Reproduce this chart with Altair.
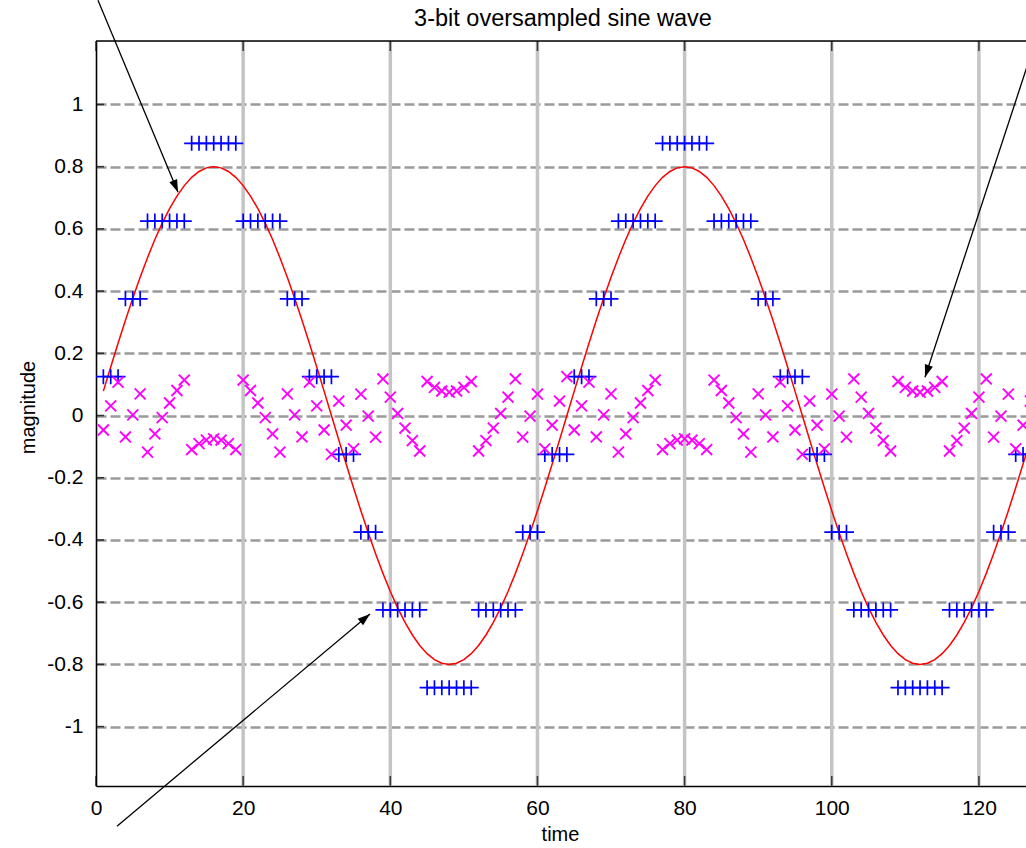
import altair as alt
import pandas as pd

FONT = "Liberation Sans"

# ---------------- data ----------------
time = list(range(1, 129))

sine = [
    0.0784, 0.1561, 0.2322, 0.3061, 0.3771, 0.4445, 0.5075, 0.5657, 0.6184, 0.6652, 0.7055, 0.7391, 0.7656, 0.7846, 0.7961, 0.8,
    0.7961, 0.7846, 0.7656, 0.7391, 0.7055, 0.6652, 0.6184, 0.5657, 0.5075, 0.4445, 0.3771, 0.3061, 0.2322, 0.1561, 0.0784, 0.0,
    -0.0784, -0.1561, -0.2322, -0.3061, -0.3771, -0.4445, -0.5075, -0.5657, -0.6184, -0.6652, -0.7055, -0.7391, -0.7656, -0.7846, -0.7961, -0.8,
    -0.7961, -0.7846, -0.7656, -0.7391, -0.7055, -0.6652, -0.6184, -0.5657, -0.5075, -0.4445, -0.3771, -0.3061, -0.2322, -0.1561, -0.0784, 0.0,
    0.0784, 0.1561, 0.2322, 0.3061, 0.3771, 0.4445, 0.5075, 0.5657, 0.6184, 0.6652, 0.7055, 0.7391, 0.7656, 0.7846, 0.7961, 0.8,
    0.7961, 0.7846, 0.7656, 0.7391, 0.7055, 0.6652, 0.6184, 0.5657, 0.5075, 0.4445, 0.3771, 0.3061, 0.2322, 0.1561, 0.0784, 0.0,
    -0.0784, -0.1561, -0.2322, -0.3061, -0.3771, -0.4445, -0.5075, -0.5657, -0.6184, -0.6652, -0.7055, -0.7391, -0.7656, -0.7846, -0.7961, -0.8,
    -0.7961, -0.7846, -0.7656, -0.7391, -0.7055, -0.6652, -0.6184, -0.5657, -0.5075, -0.4445, -0.3771, -0.3061, -0.2322, -0.1561, -0.0784, 0.0,
]

quantized = [
    0.125, 0.125, 0.125, 0.375, 0.375, 0.375, 0.625, 0.625, 0.625, 0.625, 0.625, 0.625, 0.875, 0.875, 0.875, 0.875,
    0.875, 0.875, 0.875, 0.625, 0.625, 0.625, 0.625, 0.625, 0.625, 0.375, 0.375, 0.375, 0.125, 0.125, 0.125, 0.125,
    -0.125, -0.125, -0.125, -0.375, -0.375, -0.375, -0.625, -0.625, -0.625, -0.625, -0.625, -0.625, -0.875, -0.875, -0.875, -0.875,
    -0.875, -0.875, -0.875, -0.625, -0.625, -0.625, -0.625, -0.625, -0.625, -0.375, -0.375, -0.375, -0.125, -0.125, -0.125, -0.125,
    0.125, 0.125, 0.125, 0.375, 0.375, 0.375, 0.625, 0.625, 0.625, 0.625, 0.625, 0.625, 0.875, 0.875, 0.875, 0.875,
    0.875, 0.875, 0.875, 0.625, 0.625, 0.625, 0.625, 0.625, 0.625, 0.375, 0.375, 0.375, 0.125, 0.125, 0.125, 0.125,
    -0.125, -0.125, -0.125, -0.375, -0.375, -0.375, -0.625, -0.625, -0.625, -0.625, -0.625, -0.625, -0.875, -0.875, -0.875, -0.875,
    -0.875, -0.875, -0.875, -0.625, -0.625, -0.625, -0.625, -0.625, -0.625, -0.375, -0.375, -0.375, -0.125, -0.125, -0.125, -0.125,
]

error = [
    -0.0466, 0.0311, 0.1072, -0.0689, 0.0021, 0.0695, -0.1175, -0.0593, -0.0066, 0.0402, 0.0805, 0.1141, -0.1094, -0.0904, -0.0789, -0.075,
    -0.0789, -0.0904, -0.1094, 0.1141, 0.0805, 0.0402, -0.0066, -0.0593, -0.1175, 0.0695, 0.0021, -0.0689, 0.1072, 0.0311, -0.0466, -0.125,
    0.0466, -0.0311, -0.1072, 0.0689, -0.0021, -0.0695, 0.1175, 0.0593, 0.0066, -0.0402, -0.0805, -0.1141, 0.1094, 0.0904, 0.0789, 0.075,
    0.0789, 0.0904, 0.1094, -0.1141, -0.0805, -0.0402, 0.0066, 0.0593, 0.1175, -0.0695, -0.0021, 0.0689, -0.1072, -0.0311, 0.0466, 0.125,
    -0.0466, 0.0311, 0.1072, -0.0689, 0.0021, 0.0695, -0.1175, -0.0593, -0.0066, 0.0402, 0.0805, 0.1141, -0.1094, -0.0904, -0.0789, -0.075,
    -0.0789, -0.0904, -0.1094, 0.1141, 0.0805, 0.0402, -0.0066, -0.0593, -0.1175, 0.0695, 0.0021, -0.0689, 0.1072, 0.0311, -0.0466, -0.125,
    0.0466, -0.0311, -0.1072, 0.0689, -0.0021, -0.0695, 0.1175, 0.0593, 0.0066, -0.0402, -0.0805, -0.1141, 0.1094, 0.0904, 0.0789, 0.075,
    0.0789, 0.0904, 0.1094, -0.1141, -0.0805, -0.0402, 0.0066, 0.0593, 0.1175, -0.0695, -0.0021, 0.0689, -0.1072, -0.0311, 0.0466, 0.125,
]

x_ticks = [0, 20, 40, 60, 80, 100, 120]
x_grid = [20, 40, 60, 80, 100, 120]
y_ticks = [-1, -0.8, -0.6, -0.4, -0.2, 0, 0.2, 0.4, 0.6, 0.8, 1]

# annotation arrows (tail -> head), in data units
arrow_x0 = [0.27, 129.5, 2.85]
arrow_y0 = [1.335, 1.335, -1.32]
arrow_x1 = [11.15, 112.67, 37.24]
arrow_y1 = [0.718, 0.123, -0.638]
arrow_angle = [157.4, 198.2, 50.0]

titles = ["3-bit oversampled sine wave"]

# ---------------- layout ----------------
W, H = 930, 745
XDOM = [0, 126.4]
YDOM = [-1.191, 1.204]

PLUS = "M-1,0L1,0M0,-1L0,1"
XMARK = "M-1,-1L1,1M-1,1L1,-1"
HEAD = "M0,0L-0.42,1.25L0.42,1.25Z"

df = pd.DataFrame({"time": time, "sine": sine, "quantized": quantized, "error": error})
xt_df = pd.DataFrame({"v": x_ticks})
xg_df = pd.DataFrame({"v": x_grid})
yt_df = pd.DataFrame({"v": y_ticks})
ar_df = pd.DataFrame({"x0": arrow_x0, "y0": arrow_y0, "x1": arrow_x1, "y1": arrow_y1, "angle": arrow_angle})
title_df = pd.DataFrame({"t": titles})

xscale = alt.Scale(domain=XDOM, nice=False, zero=False)
yscale = alt.Scale(domain=YDOM, nice=False, zero=False)

x_axis = alt.Axis(
    orient="bottom", values=x_ticks, title="time", grid=False, ticks=False, tickSize=0,
    domainColor="black", domainWidth=1.6,
    labelFont=FONT, labelFontSize=21, labelColor="black", labelPadding=11, labelFlush=False,
    labelExpr="datum.value + ''",
    titleFont=FONT, titleFontSize=20, titleFontWeight="normal", titleColor="black",
    titleX=464, titleY=48, titleBaseline="middle", titleAlign="center",
)
y_axis = alt.Axis(
    orient="left", values=y_ticks, title="magnitude", grid=True, gridColor="#9a9a9a", gridWidth=2.7,
    gridDash=[10, 4], ticks=False, tickSize=0,
    domainColor="black", domainWidth=1.6,
    labelFont=FONT, labelFontSize=21, labelColor="black", labelPadding=13, labelFlush=False,
    labelExpr="datum.value + ''",
    titleFont=FONT, titleFontSize=20, titleFontWeight="normal", titleColor="black",
    titleX=-68, titleY=366, titleAngle=270, titleBaseline="middle", titleAlign="center",
)


def xenc(field):
    return alt.X(f"{field}:Q", scale=xscale, axis=x_axis)


def yenc(field):
    return alt.Y(f"{field}:Q", scale=yscale, axis=y_axis)


vgrid = alt.Chart(xg_df).mark_rule(color="#c4c4c4", strokeWidth=3.5).encode(
    x=xenc("v"), y=alt.value(0), y2=alt.value(H)
)

top_border = alt.Chart(title_df).mark_rule(color="black", strokeWidth=1.6).encode(
    x=alt.value(0), x2=alt.value(W), y=alt.value(0)
)

line = alt.Chart(df).mark_line(color="#ff0000", strokeWidth=1.5, clip=True).encode(
    x=xenc("time"), y=yenc("sine")
)

qpts = alt.Chart(df).mark_point(
    shape=PLUS, size=225, filled=False, strokeWidth=1.7, color="#0000ff", opacity=1, clip=True
).encode(x=xenc("time"), y=yenc("quantized"))

epts = alt.Chart(df).mark_point(
    shape=XMARK, size=120, filled=False, strokeWidth=1.9, color="#ff00ff", opacity=1, clip=True
).encode(x=xenc("time"), y=yenc("error"))

bticks = alt.Chart(xt_df).mark_tick(orient="vertical", size=10, thickness=1.6, color="black").encode(
    x=xenc("v"), y=alt.value(H - 5)
)
tticks = alt.Chart(xt_df).mark_tick(orient="vertical", size=10, thickness=1.6, color="black").encode(
    x=xenc("v"), y=alt.value(5)
)
lticks = alt.Chart(yt_df).mark_tick(orient="horizontal", size=8, thickness=1.6, color="black").encode(
    y=yenc("v"), x=alt.value(4)
)

shafts = alt.Chart(ar_df).mark_rule(color="black", strokeWidth=1.3, clip=False).encode(
    x=xenc("x0"), y=yenc("y0"), x2="x1:Q", y2="y1:Q"
)
heads = alt.Chart(ar_df).mark_point(
    shape=HEAD, size=400, filled=True, color="black", opacity=1, strokeWidth=0, clip=False
).encode(x=xenc("x1"), y=yenc("y1"), angle=alt.Angle("angle:Q", scale=None))

title_mark = alt.Chart(title_df).mark_text(
    font=FONT, fontSize=23.5, color="black", align="center", baseline="middle"
).encode(text="t:N", x=alt.value(467), y=alt.value(-22))

chart = alt.layer(
    vgrid, top_border, line, qpts, epts, bticks, tticks, lticks, shafts, heads, title_mark
).properties(
    width=W,
    height=H,
    autosize=alt.AutoSizeParams(type="none"),
    padding={"left": 96, "top": 41, "right": 0, "bottom": 60},
).configure_view(stroke="transparent").configure(background="white")

chart.save("out.html", embed_options={"renderer": "svg", "actions": False})
